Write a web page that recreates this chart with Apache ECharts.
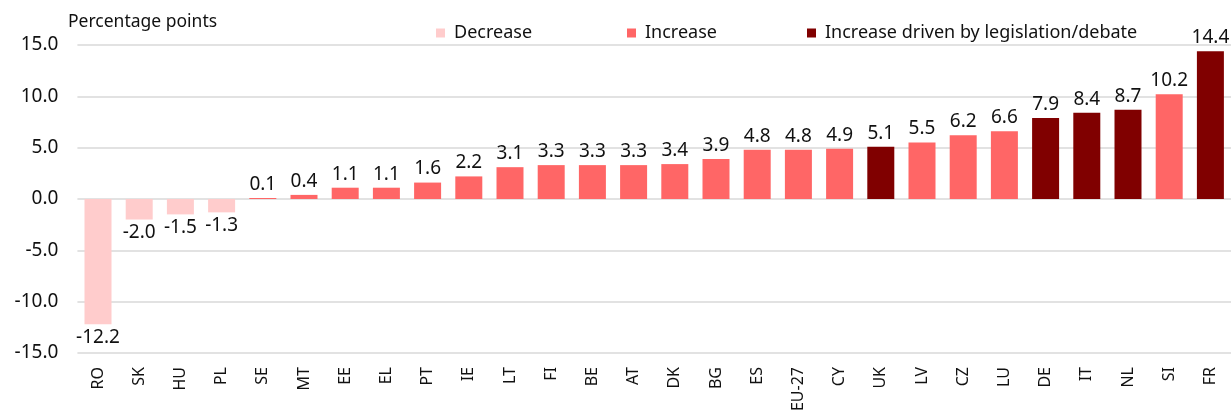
<!DOCTYPE html>
<html><head><meta charset="utf-8">
<script src="https://cdn.jsdelivr.net/npm/echarts@6/dist/echarts.min.js"></script>
<style>html,body{margin:0;padding:0;background:#fff}#c{width:1232px;height:418px}</style>
</head><body><div id="c"></div>
<script>
const categories = ['RO','SK','HU','PL','SE','MT','EE','EL','PT','IE','LT','FI','BE','AT','DK','BG','ES','EU-27','CY','UK','LV','CZ','LU','DE','IT','NL','SI','FR'];
const values = [-12.2,-2.0,-1.5,-1.3,0.1,0.4,1.1,1.1,1.6,2.2,3.1,3.3,3.3,3.3,3.4,3.9,4.8,4.8,4.9,5.1,5.5,6.2,6.6,7.9,8.4,8.7,10.2,14.4];
const legislation = ['UK','DE','IT','NL','FR'];
const yTicks = [-15,-10,-5,0,5,10,15];
const seriesNames = ['Decrease','Increase','Increase driven by legislation/debate'];
const colors = ['#FFCCCC','#FF6666','#800000'];

const FONT = 'Noto Sans';
function group(i){
  if (values[i] < 0) return 0;
  return legislation.includes(categories[i]) ? 2 : 1;
}
const series = seriesNames.map((name, g) => ({
  name, type: 'bar', stack: 'all', barWidth: 27,
  itemStyle: { color: colors[g] },
  data: values.map((v, i) => group(i) === g ? v : null),
  label: {
    show: true, position: g === 0 ? 'bottom' : 'top', distance: 4,
    color: '#111', fontSize: 19, fontFamily: FONT,
    formatter: p => p.value == null ? '' : p.value.toFixed(1)
  }
}));

const legendLefts = [431, 622, 802];
const legends = seriesNames.map((name, g) => ({
  left: legendLefts[g], top: 19, itemWidth: 9, itemHeight: 9, icon: 'rect',
  textStyle: { fontSize: 18, color: '#111', fontFamily: FONT, padding: [0,0,0,4] },
  data: [name]
}));

const chart = echarts.init(document.getElementById('c'));
chart.setOption({
  animation: false,
  title: { text: 'Percentage points', left: 63, top: 8, textStyle: { fontSize: 17.5, fontWeight: 'normal', color: '#111', fontFamily: FONT } },
  legend: legends,
  grid: { left: 77.4, right: 1, top: 45, bottom: 65, containLabel: false },
  xAxis: {
    type: 'category', data: categories,
    axisLine: { show: false, onZero: false }, axisTick: { show: false },
    axisLabel: { rotate: 90, fontSize: 16, color: '#111', fontFamily: FONT, margin: 14, interval: 0 }
  },
  yAxis: {
    type: 'value', min: yTicks[0], max: yTicks[yTicks.length-1], interval: 5,
    axisLabel: { fontSize: 19, color: '#111', fontFamily: FONT, margin: 19, formatter: v => v.toFixed(1) },
    splitLine: { lineStyle: { color: '#D9D9D9', width: 1.5 } },
    axisLine: { show: false }, axisTick: { show: false }
  },
  series
});
</script></body></html>
